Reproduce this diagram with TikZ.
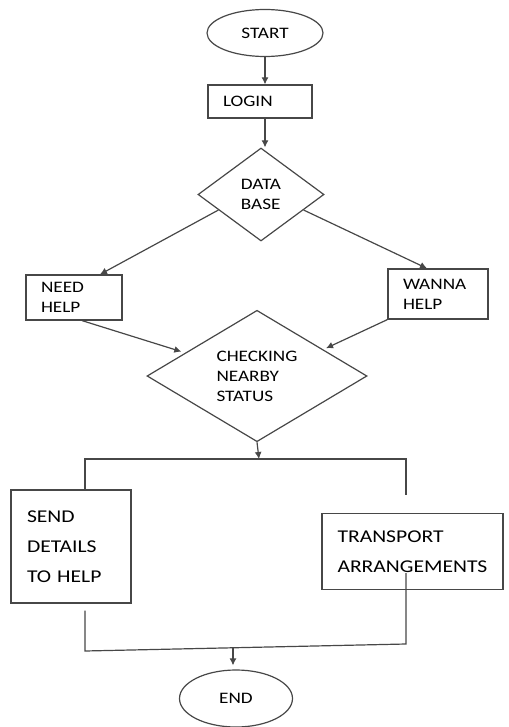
\documentclass[tikz,border=0pt]{standalone}
\usepackage{fontspec}
\setmainfont[FakeStretch=1.2]{Carlito}
\usetikzlibrary{shapes.geometric,arrows.meta,calc}
\definecolor{ink}{gray}{0.28}
\tikzset{
  base/.style = {draw = ink, line width = 1.2pt, text = black, font = \fontsize{16}{20}\selectfont},
  terminal/.style = {base, ellipse, inner sep = 0pt},
  procbox/.style = {base, rectangle, align = left, inner ysep = 0pt},
  bigbox/.style = {procbox, font = \fontsize{18}{30}\selectfont},
  decision/.style = {base, diamond, align = left, inner sep = 0pt},
  line/.style = {draw = ink, line width = 1.2pt},
  arrow/.style = {line, -{Latex[length = 7pt, width = 7pt]}}
}
\begin{document}
\begin{tikzpicture}[x = 1pt, y = -1pt]
\useasboundingbox (0,0) rectangle (508,727);
% nodes
\node[terminal, minimum width = 116pt, minimum height = 47pt] (start) at (265,33) {START};
\node[procbox, text width = 74pt, inner xsep = 15pt, minimum height = 33pt] (login) at (260,101.5) {LOGIN};
\node[decision, minimum width = 126pt, minimum height = 93pt] (db) at (261,194.5) {DATA\\BASE};
\node[procbox, text width = 66pt, inner xsep = 15pt, minimum height = 45pt] (need) at (74,297.5) {NEED\\HELP};
\node[procbox, text width = 70pt, inner xsep = 15pt, minimum height = 50pt] (wanna) at (438,294) {WANNA\\HELP};
\node[decision, minimum width = 220pt, minimum height = 124pt] (chk) at (257,376) {CHECKING\\NEARBY\\STATUS};
\node[bigbox, text width = 88pt, inner xsep = 16pt, minimum height = 113pt] (sendbox) at (71,546.5) {SEND\\DETAILS\\TO HELP};
\node[bigbox, text width = 150pt, inner xsep = 15.5pt, minimum height = 76pt] (tport) at (412.5,551.5) {TRANSPORT\\ARRANGEMENTS};
\node[terminal, minimum width = 113pt, minimum height = 57pt] (endnode) at (236,698.5) {END};
% helper points
\coordinate (split) at (259,459);
\coordinate (busL) at (85,459);
\coordinate (busR) at (406,459);
\coordinate (stubR) at (406,495);
\coordinate (tpin) at (406,573);
\coordinate (joinR) at (406,644);
\coordinate (joinL) at (85,651);
\coordinate (merge) at (233,647.5);
% connectors
\draw[arrow] (start.south) -- (start.south |- login.north);
\draw[arrow] (start.south |- login.south) -- (start.south |- db.north);
\draw[arrow] ($(db.west)!0.33!(db.south)$) -- ([xshift = 26pt]need.north);
\draw[arrow] ($(db.east)!0.33!(db.south)$) -- ([xshift = -11pt]wanna.north);
\draw[arrow, shorten > = 4pt] ([xshift = 8pt]need.south) -- ($(chk.west)!0.35!(chk.north)$);
\draw[arrow, shorten > = 3pt] (wanna.south west) -- ($(chk.north)!0.6!(chk.east)$);
\draw[arrow] (chk.south) -- (split);
\draw[line] (sendbox.north -| busL) -- (busL) -- (busR) -- (stubR);
\draw[line] ([yshift = -7pt]sendbox.south -| joinL) -- (joinL) -- (joinR) -- (tpin);
\draw[arrow, shorten > = 4pt] (merge) -- (merge |- endnode.north);
\end{tikzpicture}
\end{document}
